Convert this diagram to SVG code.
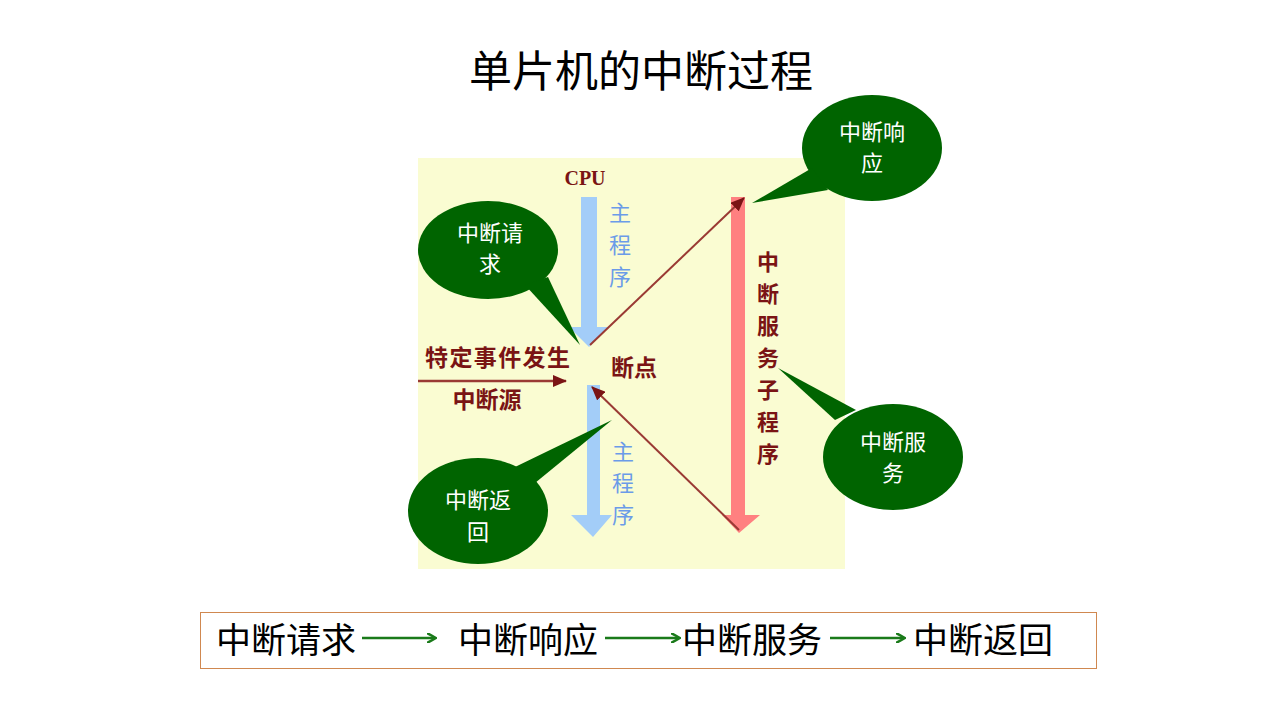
<svg xmlns="http://www.w3.org/2000/svg" width="1280" height="720" viewBox="0 0 1280 720">
<style>
.t{font-family:"Noto Sans CJK SC","Liberation Sans",sans-serif}
.dr{font-family:"Noto Sans CJK SC",sans-serif;font-weight:bold;fill:#7a1414;font-size:23px}
.bl{font-family:"Noto Sans CJK SC",sans-serif;fill:#6b9be8;font-size:22px;text-anchor:middle}
.rv{font-family:"Noto Sans CJK SC",sans-serif;font-weight:bold;fill:#7a1414;font-size:22px;text-anchor:middle}
.call{fill:#006400}
.ct{font-family:"Noto Sans CJK SC","Liberation Sans",sans-serif;fill:#ffffff;font-size:22px;text-anchor:middle}
.big{font-family:"Noto Sans CJK SC","Liberation Sans",sans-serif;fill:#000;font-size:35px}
.ga{stroke:#1a7a1a;stroke-width:2.5;fill:none;marker-end:url(#ga)}
.br{stroke:#9a3a34;stroke-width:2;fill:none}
</style>
<defs>
<marker id="ga" markerWidth="10" markerHeight="10" refX="8" refY="5" orient="auto" markerUnits="userSpaceOnUse"><path d="M0,0 L9,5 L0,10" fill="none" stroke="#1a7a1a" stroke-width="2.5"/></marker>
<marker id="ba" markerWidth="14" markerHeight="12" refX="13" refY="6" orient="auto" markerUnits="userSpaceOnUse"><path d="M0,0 L14,6 L0,12 Z" fill="#7a1414"/></marker>
</defs>
<rect width="1280" height="720" fill="#ffffff"/>
<text class="t" x="641" y="87" font-size="43" text-anchor="middle">单片机的中断过程</text>

<g id="panel">
<rect x="418" y="158" width="427" height="411" fill="#fafcd2"/>
<text x="585" y="185" font-family="Liberation Serif,serif" font-weight="bold" font-size="20" fill="#7a1414" text-anchor="middle">CPU</text>
<path d="M581,197 H597 V327 H608 L589,347 L569,327 H581 Z" fill="#a3cdf8"/>
<text class="bl" x="620" y="221">主</text>
<text class="bl" x="620" y="253">程</text>
<text class="bl" x="620" y="285">序</text>
<path d="M587,385 H600 V515 H612 L593,537 L571,515 H587 Z" fill="#a3cdf8"/>
<text class="bl" x="623" y="460">主</text>
<text class="bl" x="623" y="491">程</text>
<text class="bl" x="623" y="523">序</text>
<path d="M731,197 H745 V515 H760 L739,533 L722,515 H731 Z" fill="#ff8080"/>
<g>
<text class="rv" x="768" y="270">中</text>
<text class="rv" x="768" y="302">断</text>
<text class="rv" x="768" y="334">服</text>
<text class="rv" x="768" y="366">务</text>
<text class="rv" x="768" y="398">子</text>
<text class="rv" x="768" y="430">程</text>
<text class="rv" x="768" y="462">序</text>
</g>
<text class="dr" x="425" y="366" textLength="145">特定事件发生</text>
<text class="dr" x="487" y="408" text-anchor="middle">中断源</text>
<text class="dr" x="611" y="376">断点</text>
</g>

<g id="connectors">
<line x1="418" y1="381" x2="566" y2="381" stroke="#9a3a34" stroke-width="2.5" marker-end="url(#ba)"/>
<line class="br" x1="590" y1="345" x2="744" y2="198" marker-end="url(#ba)"/>
<line class="br" x1="739" y1="530" x2="592" y2="387" marker-end="url(#ba)"/>
<line class="ga" x1="362" y1="638" x2="435" y2="638"/>
<line class="ga" x1="605" y1="638" x2="679" y2="638"/>
<line class="ga" x1="830" y1="638" x2="904" y2="638"/>
</g>

<g id="c-request">
<ellipse class="call" cx="488" cy="250" rx="70" ry="49"/>
<path class="call" d="M525,285 L580,345 L548,277 Z"/>
<text class="ct" x="490" y="241">中断请</text>
<text class="ct" x="490" y="272">求</text>
</g>
<g id="c-response">
<ellipse class="call" cx="872" cy="148" rx="70" ry="53"/>
<path class="call" d="M812,168 L752,203 L828,190 Z"/>
<text class="ct" x="872" y="140">中断响</text>
<text class="ct" x="872" y="171">应</text>
</g>
<g id="c-service">
<ellipse class="call" cx="893" cy="457" rx="70" ry="53"/>
<path class="call" d="M835,420 L778,368 L856,410 Z"/>
<text class="ct" x="893" y="450">中断服</text>
<text class="ct" x="893" y="481">务</text>
</g>
<g id="c-return">
<ellipse class="call" cx="478" cy="511" rx="70" ry="53"/>
<path class="call" d="M515,467 L612,420 L535,483 Z"/>
<text class="ct" x="478" y="508">中断返</text>
<text class="ct" x="478" y="540">回</text>
</g>

<g id="flow">
<rect x="200.5" y="612.5" width="896" height="56" fill="none" stroke="#d08850" stroke-width="1"/>
<text class="big" x="216" y="653">中断请求</text>
<text class="big" x="458" y="653">中断响应</text>
<text class="big" x="682" y="653">中断服务</text>
<text class="big" x="913" y="653">中断返回</text>
</g>
</svg>
